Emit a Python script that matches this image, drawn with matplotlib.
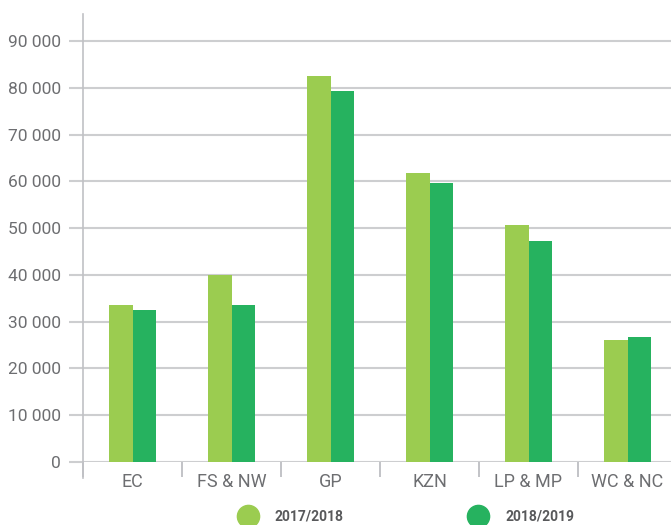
import matplotlib.pyplot as plt
import numpy as np
from matplotlib.lines import Line2D

regions = ['EC', 'FS & NW', 'GP', 'KZN', 'LP & MP', 'WC & NC']
y_2017 = [33560, 39970, 82500, 61780, 50660, 26080]
y_2018 = [32490, 33560, 79300, 59640, 47240, 26720]
seasons = ['2017/2018', '2018/2019']
colours = ['#9BCC50', '#26B25F']

plt.rcParams['font.family'] = ['Roboto', 'DejaVu Sans']

fig = plt.figure(figsize=(6.71, 5.25), dpi=100)
ax = fig.add_axes([83 / 671, 63 / 525, 594 / 671, 448 / 525])

x = np.arange(len(regions))
w = 0.24
ax.bar(x - w / 2, y_2017, width=w, color=colours[0], zorder=3)
ax.bar(x + w / 2, y_2018, width=w, color=colours[1], zorder=3)

ax.set_xlim(-0.5, len(regions) - 0.5)
ax.set_ylim(0, 90000 * 448 / 421)

grid_c = '#CDCED0'
ax.set_yticks(np.arange(0, 90001, 10000))
ax.set_yticklabels([f'{v:,}'.replace(',', ' ') for v in range(0, 90001, 10000)])
ax.yaxis.grid(True, color=grid_c, linewidth=1.5, zorder=0)
ax.tick_params(axis='y', length=10, width=1.5, color=grid_c, pad=6,
               labelsize=12.5, labelcolor='#6D6E71')

ax.set_xticks(x)
ax.set_xticklabels(regions)
ax.set_xticks(np.arange(-0.5, len(regions), 1), minor=True)
ax.tick_params(axis='x', which='major', length=0, pad=8,
               labelsize=13, labelcolor='#6D6E71')
ax.tick_params(axis='x', which='minor', length=11, width=1.2, color='#B8B9BD')

for s in ['top', 'right', 'bottom']:
    ax.spines[s].set_visible(False)
ax.spines['left'].set_color('#C0C1C5')
ax.spines['left'].set_linewidth(1.2)
ax.spines['left'].set_bounds(-3400, 90000 * 448 / 421)

handles = [Line2D([], [], marker='o', linestyle='', markersize=16,
                  markerfacecolor=c, markeredgecolor=c) for c in colours]
leg = fig.legend(handles, seasons, loc='center', bbox_to_anchor=(0.602, 0.016),
                 ncol=2, frameon=False, columnspacing=8.7, handletextpad=0.93,
                 prop={'size': 10, 'weight': 'bold'})
for t in leg.get_texts():
    t.set_color('#58595B')

fig.savefig('out.png', dpi=100)
